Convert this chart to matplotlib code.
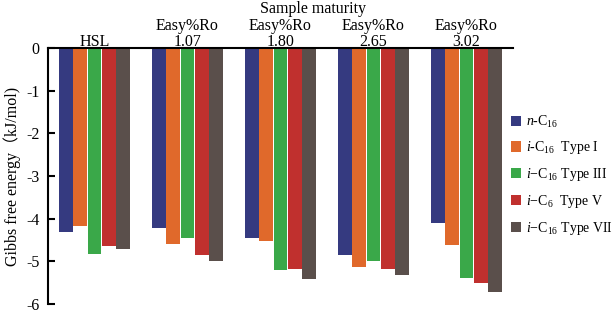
import numpy as np
import matplotlib.pyplot as plt

plt.rcParams['font.family'] = ['Liberation Serif', 'DejaVu Serif']
plt.rcParams['mathtext.fontset'] = 'custom'
plt.rcParams['mathtext.rm'] = 'Liberation Serif'
plt.rcParams['mathtext.it'] = 'Liberation Serif:italic'

groups = ['HSL', 'Easy%Ro\n1.07', 'Easy%Ro\n1.80', 'Easy%Ro\n2.65', 'Easy%Ro\n3.02']
series = [r'$\it{n}$-C$_{16}$',
          r'$\it{i}$-C$_{16}$  Type I',
          r'$\it{i}$−C$_{16}$ Type III',
          r'$\it{i}$−C$_{6}$  Type V',
          r'$\it{i}$−C$_{16}$ Type VII']
colors = ['#353a80', '#e0692b', '#3aa849', '#c0302e', '#5a4f4b']

n_c16 = [-4.32, -4.21, -4.46, -4.85, -4.09]
type_1 = [-4.18, -4.59, -4.52, -5.14, -4.62]
type_3 = [-4.83, -4.46, -5.20, -5.00, -5.38]
type_5 = [-4.64, -4.86, -5.17, -5.17, -5.50]
type_7 = [-4.71, -4.99, -5.42, -5.32, -5.71]
values = [n_c16, type_1, type_3, type_5, type_7]

fig = plt.figure(figsize=(6.14, 3.12), dpi=100)
ax = fig.add_axes([48/614, 1-304/312, (513-48)/614, (304-48)/312])

x = np.arange(len(groups))
w = 0.155
for i, (vals, lab, c) in enumerate(zip(values, series, colors)):
    ax.bar(x + (i - 2) * w, vals, w * 0.97, color=c, label=lab, zorder=1)

ax.set_xlim(-0.5, 4.5)
ax.set_ylim(-6, 0)
ax.set_yticks(range(-6, 1))
ax.set_yticklabels([str(v) for v in range(-6, 1)])
ax.tick_params(axis='y', direction='in', length=5, width=1.5, labelsize=11.5, pad=6)
ax.set_xticks([])
for s in ['right', 'bottom']:
    ax.spines[s].set_visible(False)
ax.spines['top'].set_linewidth(1.5)
ax.spines['left'].set_linewidth(1.5)
ax.spines['top'].set_zorder(3)

# group labels sit on the top axis line, which cuts the second line a little
for xi, g in zip(x, groups):
    ax.text(xi, -0.04, g, ha='center', va='bottom', fontsize=11.5,
            linespacing=1.0, zorder=0, clip_on=False)
fig.text(313/614, 1-9/312, 'Sample maturity', ha='center', va='center', fontsize=11.5)

ax.set_ylabel('Gibbs free energy（kJ/mol)', fontsize=11.5,
              family=['Liberation Serif', 'Noto Sans CJK SC'], labelpad=4)

ax.legend(loc='upper left', bbox_to_anchor=(505/614, 1-108/312),
          bbox_transform=fig.transFigure, frameon=False,
          fontsize=10, handlelength=0.75, handleheight=0.75,
          handletextpad=0.35, labelspacing=0.7, borderaxespad=0.0)

fig.savefig('out.png', dpi=100)
